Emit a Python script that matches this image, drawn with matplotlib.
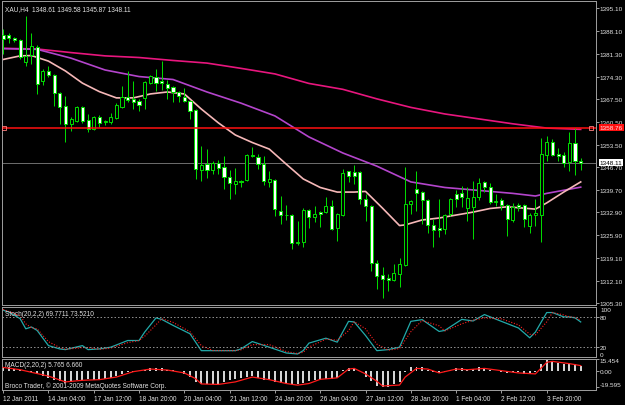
import matplotlib
matplotlib.use('Agg')
import matplotlib.pyplot as plt
from matplotlib.transforms import blended_transform_factory

plt.rcParams['font.family'] = ['Liberation Sans', 'DejaVu Sans']

# H4 candles, oldest first
opens = [1387.0, 1387.0, 1386.0, 1385.4, 1378.7, 1380.9, 1383.3, 1372.9, 1376.0, 1374.8,
         1369.3, 1365.3, 1359.8, 1360.8, 1365.0, 1361.1, 1358.3, 1362.0, 1360.6, 1360.5,
         1361.7, 1365.0, 1368.1, 1367.5, 1366.9, 1367.8, 1372.3, 1374.2, 1372.9, 1372.0,
         1371.1, 1369.6, 1368.1, 1366.9, 1364.1, 1345.8, 1347.6, 1345.8, 1348.0, 1346.7,
         1343.7, 1341.6, 1342.5, 1342.8, 1350.4, 1349.8, 1347.6, 1342.2, 1342.8, 1333.3,
         1332.0, 1332.1, 1323.6, 1323.9, 1333.6, 1331.5, 1333.0, 1333.0, 1334.9, 1328.2,
         1332.1, 1345.4, 1345.2, 1345.2, 1337.0, 1334.9, 1317.5, 1313.8, 1312.9, 1312.3,
         1314.1, 1316.9, 1335.5, 1340.0, 1339.1, 1336.7, 1329.1, 1328.2, 1327.9, 1332.4,
         1338.5, 1338.8, 1334.2, 1334.6, 1337.6, 1342.2, 1340.6, 1336.1, 1336.7, 1335.2,
         1330.6, 1335.2, 1335.2, 1328.8, 1332.1, 1332.1, 1350.4, 1354.4, 1350.7, 1350.4,
         1348.3, 1354.0, 1348.61]
highs = [1388.8, 1387.6, 1386.3, 1385.7, 1392.7, 1387.6, 1383.9, 1376.6, 1377.5, 1375.1,
         1369.6, 1368.4, 1362.0, 1365.3, 1365.3, 1362.9, 1362.3, 1362.6, 1361.1, 1363.2,
         1366.2, 1371.4, 1376.0, 1373.0, 1367.5, 1373.0, 1374.8, 1376.6, 1379.0, 1373.2,
         1371.4, 1369.9, 1370.8, 1367.2, 1364.4, 1353.1, 1352.2, 1348.6, 1348.9, 1350.1,
         1345.8, 1346.4, 1342.8, 1350.7, 1352.8, 1350.7, 1350.1, 1345.5, 1343.1, 1337.9,
         1335.2, 1332.4, 1330.3, 1334.3, 1333.9, 1334.9, 1333.3, 1337.6, 1336.7, 1332.7,
         1346.1, 1345.5, 1347.3, 1345.5, 1338.5, 1335.2, 1318.4, 1316.3, 1314.1, 1317.2,
         1319.0, 1346.7, 1336.7, 1345.5, 1339.4, 1337.0, 1330.9, 1337.0, 1332.4, 1337.3,
         1339.7, 1341.0, 1340.6, 1342.5, 1343.4, 1342.5, 1341.9, 1338.5, 1337.3, 1335.5,
         1335.8, 1335.8, 1335.5, 1332.7, 1337.0, 1355.6, 1356.2, 1355.3, 1352.5, 1351.3,
         1357.4, 1358.6, 1349.58]
lows = [1381.2, 1384.5, 1384.8, 1379.7, 1377.5, 1378.1, 1369.0, 1371.7, 1374.2, 1365.3,
        1359.8, 1354.4, 1357.7, 1360.4, 1360.1, 1357.4, 1358.0, 1358.9, 1359.5, 1359.8,
        1361.4, 1364.7, 1366.6, 1364.4, 1363.8, 1364.4, 1372.0, 1369.9, 1370.2, 1367.5,
        1366.6, 1366.6, 1366.6, 1361.4, 1343.1, 1342.5, 1343.4, 1344.6, 1344.6, 1340.0,
        1337.0, 1338.5, 1340.6, 1342.5, 1349.8, 1346.1, 1341.3, 1340.6, 1331.8, 1329.4,
        1330.6, 1321.8, 1323.0, 1322.4, 1328.2, 1330.0, 1328.5, 1332.7, 1327.5, 1324.2,
        1331.8, 1342.2, 1341.6, 1335.5, 1330.3, 1315.1, 1309.6, 1306.8, 1309.0, 1312.0,
        1310.2, 1316.6, 1332.4, 1333.3, 1329.4, 1326.6, 1322.4, 1325.4, 1326.3, 1331.8,
        1334.6, 1334.6, 1330.3, 1324.8, 1336.7, 1339.1, 1335.5, 1334.9, 1333.6, 1325.7,
        1330.0, 1333.3, 1328.5, 1326.6, 1328.8, 1323.9, 1348.6, 1350.1, 1348.6, 1346.7,
        1345.5, 1344.3, 1345.87]
closes = [1385.7, 1386.0, 1385.4, 1380.3, 1380.6, 1383.6, 1372.0, 1376.0, 1374.8, 1369.3,
          1365.0, 1359.8, 1361.4, 1365.0, 1360.8, 1358.3, 1362.0, 1360.1, 1360.8, 1362.0,
          1365.6, 1368.1, 1367.2, 1366.6, 1365.6, 1372.6, 1374.5, 1372.3, 1372.3, 1370.8,
          1369.6, 1368.4, 1366.9, 1363.8, 1346.1, 1347.3, 1345.8, 1348.0, 1346.4, 1343.7,
          1341.9, 1342.5, 1342.2, 1350.4, 1350.1, 1347.6, 1342.5, 1343.1, 1333.9, 1332.1,
          1332.1, 1323.6, 1323.9, 1333.6, 1331.5, 1332.4, 1332.4, 1334.9, 1327.8, 1332.4,
          1344.9, 1344.0, 1344.0, 1337.0, 1334.9, 1317.5, 1313.5, 1312.6, 1312.3, 1314.4,
          1317.2, 1335.5, 1336.4, 1338.8, 1336.7, 1329.1, 1327.5, 1327.5, 1332.1, 1337.0,
          1337.0, 1337.6, 1337.3, 1337.6, 1341.9, 1340.6, 1336.1, 1336.4, 1335.2, 1330.9,
          1334.6, 1334.6, 1330.9, 1332.1, 1332.7, 1350.7, 1354.4, 1350.4, 1350.1, 1347.9,
          1354.0, 1348.6, 1348.11]

ma_slow_x = [0, 6, 12, 18, 24, 30, 36, 42, 48, 54, 60, 66, 72, 78, 84, 90, 96, 102]
ma_slow = [1382.9, 1382.7, 1381.6, 1380.6, 1380.1, 1379.2, 1378.4, 1376.8, 1375.1, 1372.2,
           1370.4, 1367.5, 1364.9, 1362.9, 1361.4, 1359.9, 1358.6, 1358.2]
ma_mid_x = [0, 6, 12, 18, 24, 30, 36, 42, 48, 54, 60, 66, 72, 78, 84, 90, 94, 96, 102]
ma_mid = [1382.8, 1382.6, 1379.9, 1376.3, 1374.3, 1373.4, 1369.6, 1366.2, 1362.3, 1355.9,
          1351.0, 1347.0, 1342.2, 1340.5, 1339.6, 1338.7, 1337.9, 1338.7, 1340.6]
ma_fast_x = [0, 3, 5, 8, 11, 14, 17, 20, 23, 26, 29, 32, 35, 38, 41, 44, 47, 50, 53, 56,
             59, 62, 64, 67, 70, 71, 74, 77, 80, 83, 86, 89, 92, 94, 96, 99, 102]
ma_fast = [1379.5, 1380.6, 1380.7, 1379.0, 1376.0, 1372.3, 1369.7, 1367.8, 1367.8, 1369.0,
           1369.6, 1369.0, 1364.4, 1360.2, 1356.5, 1354.2, 1352.2, 1347.6, 1343.1, 1340.5,
           1339.1, 1339.1, 1339.3, 1334.2, 1328.9, 1329.1, 1330.6, 1331.2, 1332.1, 1333.0,
           1334.1, 1334.6, 1334.2, 1333.9, 1335.8, 1339.1, 1342.2]

level_price = 1358.76
bid_price = 1348.11

price_ticks = [1395.10, 1388.10, 1381.30, 1374.30, 1367.50, 1360.50, 1353.50, 1346.70,
               1339.70, 1332.90, 1325.90, 1319.10, 1312.10, 1305.30]

# stochastic
stoch_x = [0, 1, 3, 4, 5, 6, 8, 10, 11, 14, 15, 17, 19, 22, 24, 25, 27, 28, 30, 33,
           35, 37, 41, 42, 44, 47, 50, 52, 53, 54, 57, 59, 61, 62, 64, 66, 68, 70, 72, 74,
           77, 78, 81, 83, 85, 88, 91, 93, 94, 96, 97, 99, 100, 101, 102]
stoch_main = [93.5, 90, 76.5, 56, 59.6, 52.7, 22, 15.3, 13.9, 22, 13.9, 15.3, 18.8, 32.3,
              32.3, 49.4, 78, 75, 62.9, 45.9, 11.8, 11.8, 11.8, 15.3, 30.2, 18.8, 7.1, 5.1,
              12, 27, 37, 29, 71, 69.8, 42.4, 11.8, 13.9, 18.8, 71, 74.5, 50.6, 52.7, 75,
              71.8, 84.7, 71, 57.6, 37.8, 49.4, 88.8, 88.8, 80, 80, 78, 69.77]
stoch_signal = [95, 91, 82, 66, 58, 56, 30, 18, 14.5, 18, 18, 14.5, 17, 28, 32.3, 41, 64,
                76.5, 69, 50, 22, 12, 11.8, 13.5, 24, 24, 10, 6, 8.5, 19, 35, 33, 52, 70.4,
                56, 25, 12.8, 16, 50, 72.7, 62, 51.6, 66, 73.4, 78, 76, 64, 45, 43.6, 70,
                88.8, 84, 80, 79, 73.52]

# MACD histogram, one per bar, and its signal line
macd = [5.5, 4.5, 3.0, 1.5, -0.5, -1.8, -3.6, -6.3, -8.7, -10.7,
        -12.7, -14.3, -13.5, -11.5, -11.5, -10.3, -10.7, -10.3, -9.5, -8.7,
        -6.3, -3.6, -1.6, -0.8, 0.4, 1.6, 3.2, 3.2, 3.2, 1.6,
        0.8, 0.4, -3.6, -7.5, -13.5, -16.6, -16.6, -16.6, -15.5, -13.5,
        -11.5, -9.5, -8.7, -7.5, -6.3, -8.7, -10.7, -11.5, -13.5, -14.3,
        -15.5, -16.6, -16.6, -14.3, -12.7, -11.5, -11.5, -10.3, -9.5, -8.7,
        1.6, 3.2, 3.2, 0.4, -7.5, -12.7, -18.2, -19.6, -19.4, -16.6,
        -13.5, -0.8, 4.4, 5.5, 4.4, 1.6, -1.6, -2.4, -0.8, 1.6,
        3.2, 3.2, 1.6, 2.4, 4.4, 4.0, 1.6, 0.4, -0.8, -2.4,
        -1.6, -1.6, -3.6, -2.4, -1.6, 8.3, 13.1, 11.5, 10.3, 9.1,
        9.5, 8.3, 5.765]
macd_sig_x = [0, 3, 5, 8, 11, 14, 17, 20, 23, 26, 29, 32, 34, 35, 38, 41, 44, 47, 50, 52,
              54, 56, 59, 61, 62, 64, 66, 67, 70, 71, 73, 75, 77, 80, 82, 85, 88, 91, 94, 96,
              97, 100, 102]
macd_sig = [4.4, 1.6, -1.6, -6.3, -13.5, -11.5, -10.7, -7.5, -0.8, 2.4, 1.2, -2.4, -9.5,
            -16.0, -16.6, -13.5, -7.5, -10.7, -15.5, -17.5, -15.5, -10.3, -8.5, 2.4, 3.2,
            -3.6, -12.7, -18.5, -17.4, -7.5, 3.2, 2.4, -2.4, 2.4, 1.6, 3.2, 0.4, -2.4, -3.6,
            10.7, 11.9, 9.1, 6.66]

time_ticks = [0, 8, 16, 24, 32, 40, 48, 56, 64, 72, 80, 88, 96]
time_labels = ['12 Jan 2011', '14 Jan 04:00', '17 Jan 12:00', '18 Jan 20:00',
               '20 Jan 04:00', '21 Jan 12:00', '24 Jan 20:00', '26 Jan 04:00',
               '27 Jan 12:00', '28 Jan 20:00', '1 Feb 04:00', '2 Feb 12:00', '3 Feb 20:00']

GREEN = '#00d800'
FRAME = '#9a9a9a'
TXT = '#e4e4e4'
PX = 0.72  # one pixel in points
FS = 4.6

W, H = 625, 406
fig = plt.figure(figsize=(W / 100, H / 100), dpi=100, facecolor='black')


def box(left, top, right, bottom):
    return [left / W, 1 - bottom / H, (right - left) / W, (bottom - top) / H]


ax = fig.add_axes(box(2, 2, 596, 306))
ax_st = fig.add_axes(box(2, 308, 596, 357.5), sharex=ax)
ax_md = fig.add_axes(box(2, 359.5, 596, 391), sharex=ax)

for a in (ax, ax_st, ax_md):
    a.set_facecolor('black')
    for s in a.spines.values():
        s.set_color(FRAME)
        s.set_linewidth(PX)
    a.yaxis.tick_right()
    a.tick_params(axis='y', colors=FRAME, labelcolor=TXT, labelsize=FS,
                  length=2.2, width=PX, pad=0.6)
    a.tick_params(axis='x', bottom=False, labelbottom=False)

ax.set_xlim(-0.2, 104.7)

# candles
n = len(closes)
bars = list(range(n))
ax.vlines(bars, lows, highs, color=GREEN, lw=PX, zorder=3)
bottoms = [min(o, c) for o, c in zip(opens, closes)]
heights = [abs(c - o) for o, c in zip(opens, closes)]
fills = ['white' if c < o else 'black' for o, c in zip(opens, closes)]
ax.bar(bars, heights, bottom=bottoms, width=0.55, color=fills,
       edgecolor=GREEN, linewidth=PX, zorder=4)

ax.plot(ma_slow_x, ma_slow, color='#e8167e', lw=1.2, zorder=2)
ax.plot(ma_mid_x, ma_mid, color='#b445cc', lw=1.2, zorder=2)
ax.plot(ma_fast_x, ma_fast, color='#f6b8b8', lw=1.2, zorder=2)

ax.axhline(bid_price, color='#6a6a6a', lw=PX, zorder=1)
ax.axhline(level_price, color='#ff1010', lw=1.1, zorder=5)
ax.plot([0.15, 103.9], [level_price, level_price], 's', ms=2.5, mfc='none',
        mec='#ff8080', mew=0.6, zorder=6)

ax.set_ylim(1304.69, 1397.32)
ax.set_yticks(price_ticks)
ax.set_yticklabels(['%.2f' % p for p in price_ticks])

tr = blended_transform_factory(ax.transAxes, ax.transData)
ax.text(1.006, level_price, '1358.76', transform=tr, fontsize=FS, color='#ffe0e0',
        va='center', ha='left', clip_on=False, zorder=10,
        bbox=dict(boxstyle='square,pad=0.15', fc='#ff1010', ec='none'))
ax.text(1.006, bid_price, '1348.11', transform=tr, fontsize=FS, color='black',
        va='center', ha='left', clip_on=False, zorder=10,
        bbox=dict(boxstyle='square,pad=0.15', fc='white', ec='none'))

ax.text(0.005, 0.988, 'XAU,H4  1348.61 1349.58 1345.87 1348.11', transform=ax.transAxes,
        fontsize=4.7, color=TXT, va='top', ha='left')

# stochastic panel
ax_st.set_ylim(0, 100)
ax_st.plot(stoch_x, stoch_main, color='#22aaaa', lw=0.9)
ax_st.plot(stoch_x, stoch_signal, color='#ff2020', lw=0.8, ls=(0, (1, 1.5)))
for lv in (80, 20):
    ax_st.axhline(lv, color='#8a8a8a', lw=PX, ls=(0, (1.5, 2)))
ax_st.set_yticks([20, 80])
ax_st.set_yticklabels(['20', '80'])
trs = blended_transform_factory(ax_st.transAxes, ax_st.transData)
ax_st.text(1.007, 101, '100', transform=trs, fontsize=FS, color=TXT, va='top', clip_on=False)
ax_st.text(1.007, -1, '0', transform=trs, fontsize=FS, color=TXT, va='bottom', clip_on=False)
ax_st.text(0.005, 0.94, 'Stoch(20,2,2) 69.7711 73.5210', transform=ax_st.transAxes,
           fontsize=4.7, color=TXT, va='top', ha='left')

# MACD panel
ax_md.set_ylim(-23.5, 15.454)
ax_md.bar(bars, macd, width=0.35, color='#d4d4d4', zorder=2)
ax_md.plot(macd_sig_x, macd_sig, color='#ff1a1a', lw=0.9, zorder=3)
ax_md.set_yticks([-19.595, 0, 15.454])
ax_md.set_yticklabels(['-19.595', '0.00', '15.454'])
ylabs = ax_md.get_yticklabels()
ylabs[0].set_verticalalignment('bottom')
ylabs[2].set_verticalalignment('top')
ax_md.text(0.005, 0.93, 'MACD(2,20,2) 5.765 6.660', transform=ax_md.transAxes,
           fontsize=4.7, color=TXT, va='top', ha='left')
ax_md.text(0.005, 0.03, 'Broco Trader, \u00a9 2001-2009 MetaQuotes Software Corp.',
           transform=ax_md.transAxes, fontsize=4.7, color=TXT, va='bottom', ha='left')

ax_md.tick_params(axis='x', bottom=True, labelbottom=True, colors=FRAME,
                  labelcolor=TXT, labelsize=4.7, length=2.2, width=PX, pad=1.5)
ax_md.set_xticks(time_ticks)
ax_md.set_xticklabels(time_labels)
for lbl in ax_md.get_xticklabels():
    lbl.set_horizontalalignment('left')

fig.savefig('out.png', dpi=100, facecolor='black')
